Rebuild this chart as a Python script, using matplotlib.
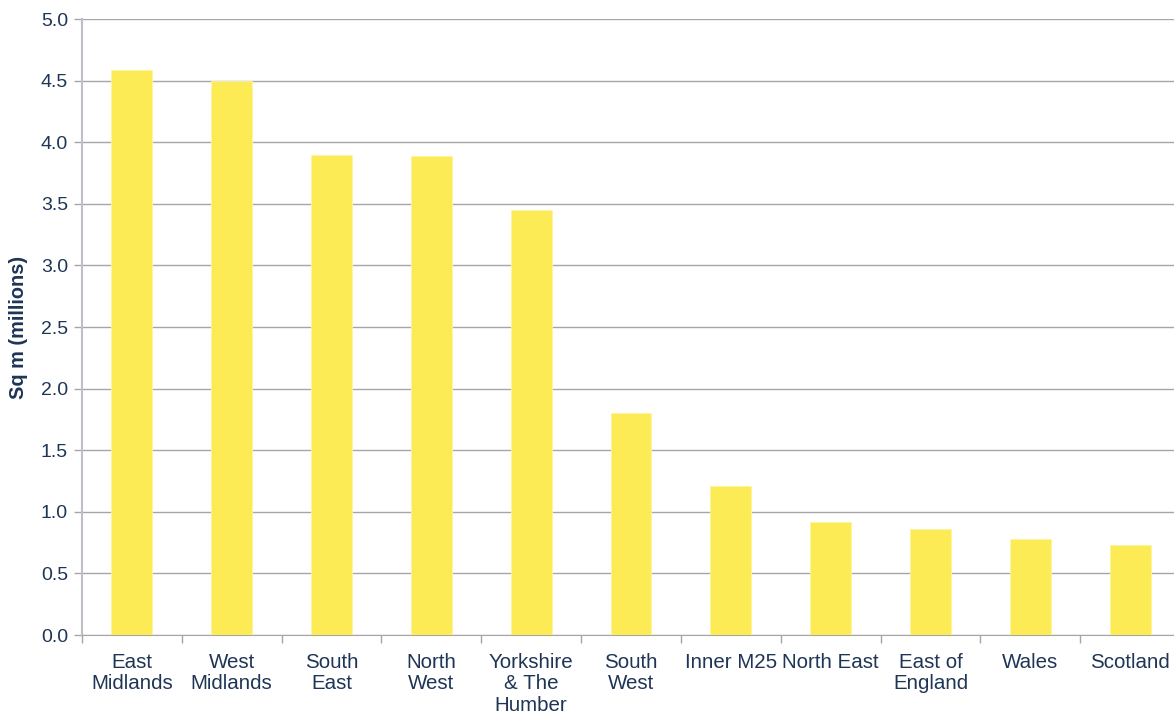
import numpy as np
import matplotlib
matplotlib.use("Agg")
from matplotlib import pyplot as plt

regions = ["East\nMidlands", "West\nMidlands", "South\nEast", "North\nWest",
           "Yorkshire\n& The\nHumber", "South\nWest", "Inner M25", "North East",
           "East of\nEngland", "Wales", "Scotland"]
floorspace = [4.59, 4.50, 3.90, 3.89, 3.45, 1.80, 1.21, 0.92, 0.86, 0.78, 0.73]

text_col = "#1F3556"
grid_col = "#A6A6A6"

plt.rcParams["font.family"] = ["Liberation Sans", "DejaVu Sans"]

fig = plt.figure(figsize=(11.74, 7.17), dpi=100)
# plot area runs slightly past the right edge of the canvas
ax = fig.add_axes([82 / 1174, 1 - 635 / 717, (1180 - 82) / 1174, (635 - 19) / 717])

x = np.arange(len(regions))
ax.bar(x, floorspace, width=0.41, color="#FDEB55", edgecolor="#FFF3A0",
       linewidth=0.6, zorder=3)

ax.set_xlim(-0.5, len(regions) - 0.5)
ax.set_ylim(0, 5.0)
ax.set_yticks(np.arange(0, 5.01, 0.5))
ax.set_yticklabels([f"{v:.1f}" for v in np.arange(0, 5.01, 0.5)])
ax.yaxis.grid(True, color=grid_col, linewidth=1.0, zorder=0)
ax.tick_params(axis="y", length=6, color=grid_col, width=1, labelsize=14,
               labelcolor=text_col, pad=4)

ax.set_xticks(x)
ax.set_xticklabels(regions, linespacing=1.15)
ax.set_xticks(np.arange(-0.5, len(regions)), minor=True)
ax.tick_params(axis="x", which="major", length=0, labelsize=14.8,
               labelcolor=text_col, pad=13)
ax.tick_params(axis="x", which="minor", length=6, color=grid_col, width=1)

for side in ("top", "right"):
    ax.spines[side].set_visible(False)
ax.spines["left"].set_color("#BFBFC8")
ax.spines["left"].set_linewidth(1.5)
ax.spines["bottom"].set_color(grid_col)

ax.set_ylabel("Sq m (millions)", fontsize=14.3, fontweight="bold", color=text_col,
              labelpad=9)

fig.savefig("out.png", dpi=100)
